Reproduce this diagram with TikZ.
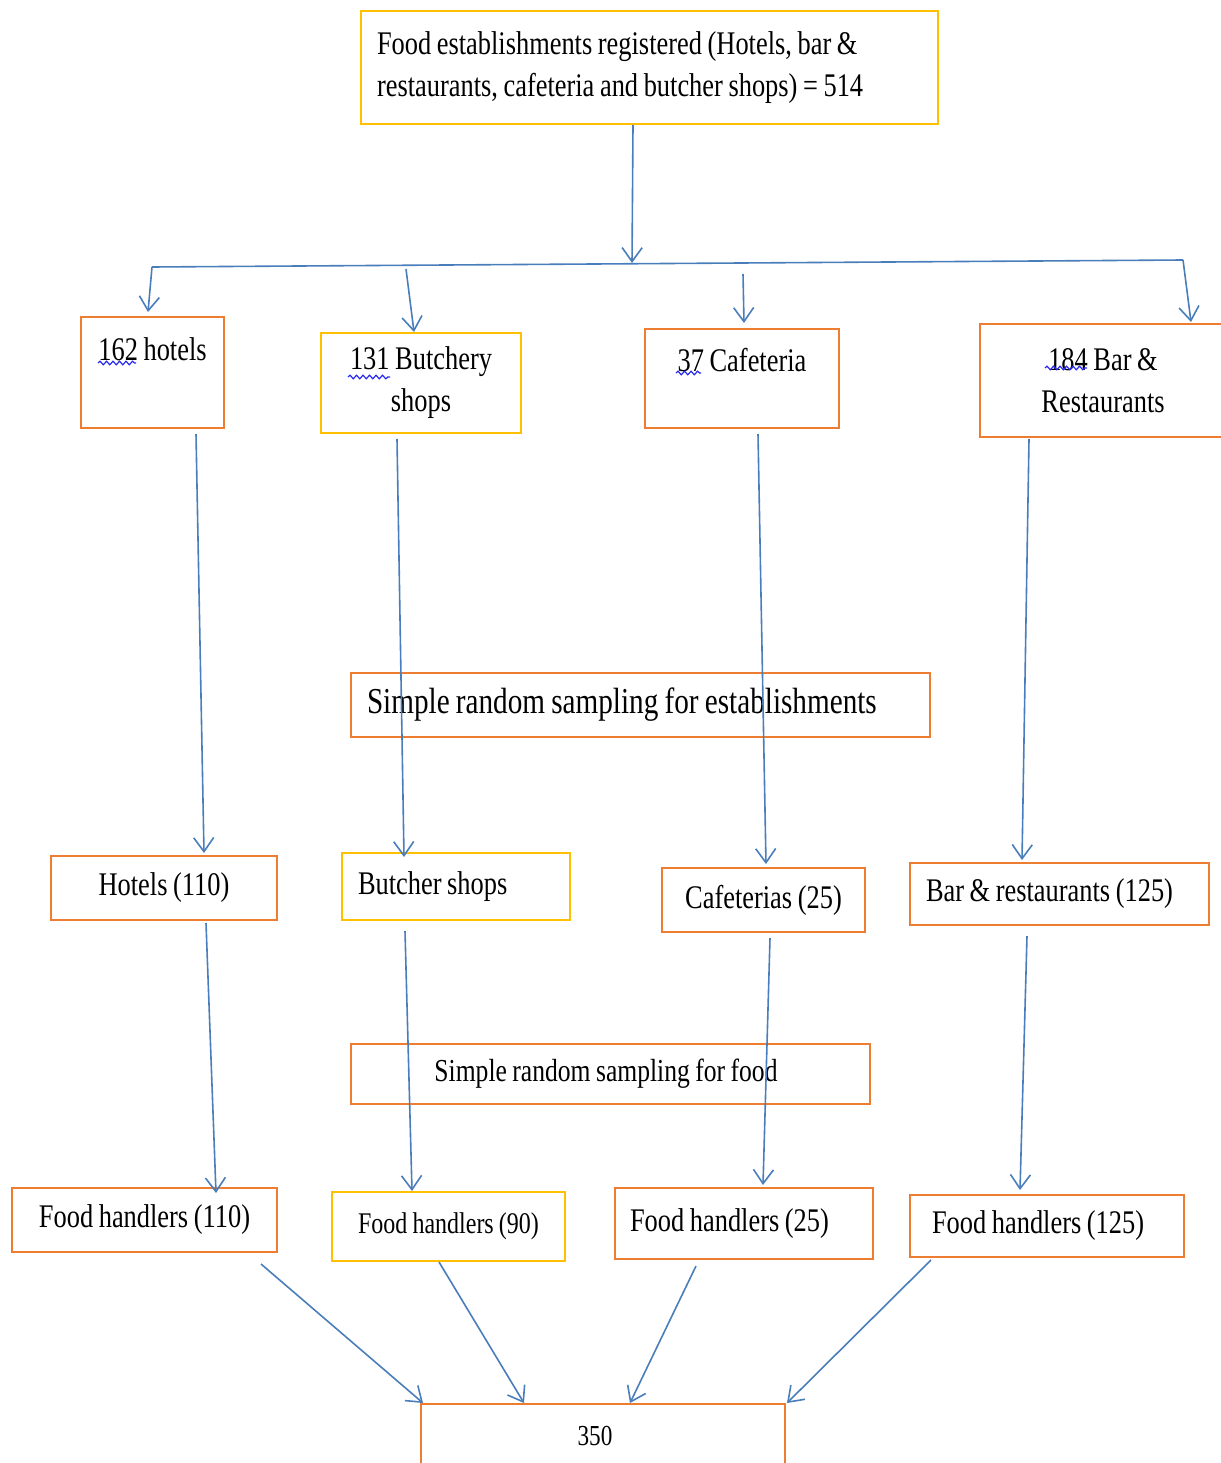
\documentclass[tikz,border=0pt]{standalone}
\usepackage{fontspec}
\setmainfont[FakeStretch=0.8,WordSpace=0.85]{Liberation Serif}
\usetikzlibrary{arrows.meta,decorations.pathmorphing}
\definecolor{boxorange}{HTML}{ED7D31}
\definecolor{boxyellow}{HTML}{FFC000}
\definecolor{linkblue}{HTML}{4A7EBB}
\definecolor{spellblue}{HTML}{2828F0}
\newcommand\lbox[2]{\makebox[#1][l]{#2}}
\tikzset{
  obox/.style={draw=boxorange, line width=2pt, anchor=north west, inner sep=0pt,
    font=\fontsize{33}{42}\selectfont},
  ybox/.style={obox, draw=boxyellow},
  link/.style={draw=linkblue, line width=1.6pt, -{Straight Barb[length=14pt,width=20pt]}},
  bar/.style={draw=linkblue, line width=1.6pt},
  squig/.style={draw=spellblue, line width=1.2pt, decorate,
    decoration={snake, amplitude=1.8pt, segment length=6.5pt}}
}
\begin{document}
\begin{tikzpicture}[x=1pt, y=-1pt]
  \useasboundingbox (0,0) rectangle (1220,1463);
  % top box
  \node[ybox, minimum width=577pt, minimum height=113pt, align=left] (top) at (360,10)
    {\lbox{545pt}{Food establishments registered (Hotels, bar \&}\\\lbox{545pt}{restaurants, cafeteria and butcher shops) = 514}};
  % establishments
  \node[obox, minimum width=143pt, text height=43pt, text depth=68pt] (h162) at (80,316) {162 hotels};
  \node[ybox, minimum width=200pt, minimum height=100pt, align=center] (b131) at (320,332) {131 Butchery\\shops};
  \node[obox, minimum width=194pt, text height=42pt, text depth=57pt] (c37) at (644,328) {37 Cafeteria};
  \node[obox, minimum width=246pt, minimum height=113pt, align=center] (b184) at (979,323) {184 Bar \&\\Restaurants};
  \draw[squig] (98,363) -- (136,363);
  \draw[squig] (348,377) -- (390,377);
  \draw[squig] (676,373) -- (701,373);
  \draw[squig] (1045,368) -- (1087,368);
  % sampling
  \node[obox, minimum width=579pt, minimum height=64pt, font=\fontsize{36.5}{42}\selectfont] (srse) at (350,672) {\lbox{547pt}{Simple random sampling for establishments}};
  \node[obox, minimum width=226pt, minimum height=64pt] (h110) at (50,855) {Hotels (110)};
  \node[ybox, minimum width=228pt, minimum height=67pt] (bsh) at (341,852) {\lbox{196pt}{Butcher shops}};
  \node[obox, minimum width=203pt, minimum height=64pt] (c25) at (661,867) {Cafeterias (25)};
  \node[obox, minimum width=299pt, minimum height=62pt] (br125) at (909,862) {\lbox{267pt}{Bar \& restaurants (125)}};
  \node[obox, minimum width=519pt, minimum height=60pt, font=\fontsize{32}{36}\selectfont] (srsf) at (350,1043) {\hspace*{-9pt}Simple random sampling for food};
  % food handlers
  \node[obox, minimum width=265pt, minimum height=64pt] (fh110) at (11,1187) {Food handlers (110)};
  \node[ybox, minimum width=233pt, minimum height=69pt, font=\fontsize{30}{36}\selectfont] (fh90) at (331,1191) {Food handlers (90)};
  \node[obox, minimum width=258pt, minimum height=71pt] (fh25) at (614,1187) {\lbox{228pt}{Food handlers (25)}};
  \node[obox, minimum width=274pt, minimum height=62pt] (fh125) at (909,1194) {\lbox{230pt}{Food handlers (125)}};
  \node[obox, minimum width=364pt, minimum height=63pt, font=\fontsize{29}{34}\selectfont] (n350) at (420,1403) {\hspace*{-16pt}350};
  % connectors
  \coordinate (bl) at (152,267);
  \coordinate (br) at (1183,260);
  \coordinate (bm) at (632,263);
  \coordinate (b131top) at (406,269);
  \coordinate (b37top) at (743,274);
  \draw[link] ([xshift=-16.5pt]top.south) -- (bm);
  \draw[bar] (bl) -- (br);
  \draw[link] (br) -- ([xshift=88pt,yshift=1pt]b184.north);
  \draw[link] (bl) -- ([xshift=-4.5pt,yshift=4pt]h162.north);
  \draw[link] (b131top) -- ([xshift=-7pt]b131.north);
  \draw[link] (b37top) -- ([xshift=2pt,yshift=5pt]c37.north);
  \draw[link] ([xshift=43.5pt,yshift=-5pt]h162.south) -- ([xshift=40pt,yshift=2pt]h110.north);
  \draw[link] ([xshift=-24pt,yshift=-5pt]b131.south) -- ([xshift=-52pt,yshift=-5pt]bsh.north);
  \draw[link] ([xshift=16pt,yshift=-5pt]c37.south) -- ([xshift=2.5pt,yshift=3pt]c25.north);
  \draw[link] ([xshift=-74pt,yshift=-1pt]b184.south) -- ([xshift=-37.5pt,yshift=2pt]br125.north);
  \draw[link] ([xshift=42pt,yshift=-2pt]h110.south) -- ([xshift=71.5pt,yshift=-6pt]fh110.north);
  \draw[link] ([xshift=-51pt,yshift=-10pt]bsh.south) -- ([xshift=-36.5pt]fh90.north);
  \draw[link] ([xshift=6.5pt,yshift=-5pt]c25.south) -- ([xshift=19pt,yshift=2pt]fh25.north);
  \draw[link] ([xshift=-32.5pt,yshift=-10pt]br125.south) -- ([xshift=-27pt,yshift=4pt]fh125.north);
  \draw[link] ([xshift=116.5pt,yshift=-11pt]fh110.south) -- ([xshift=3pt]n350.north west);
  \draw[link] ([xshift=-9.5pt]fh90.south) -- ([xshift=-79pt]n350.north);
  \draw[link] ([xshift=-48pt,yshift=-6pt]fh25.south) -- ([xshift=27pt]n350.north);
  \draw[link] ([xshift=-116pt,yshift=-2pt]fh125.south) -- ([xshift=1pt]n350.north east);
\end{tikzpicture}
\end{document}
